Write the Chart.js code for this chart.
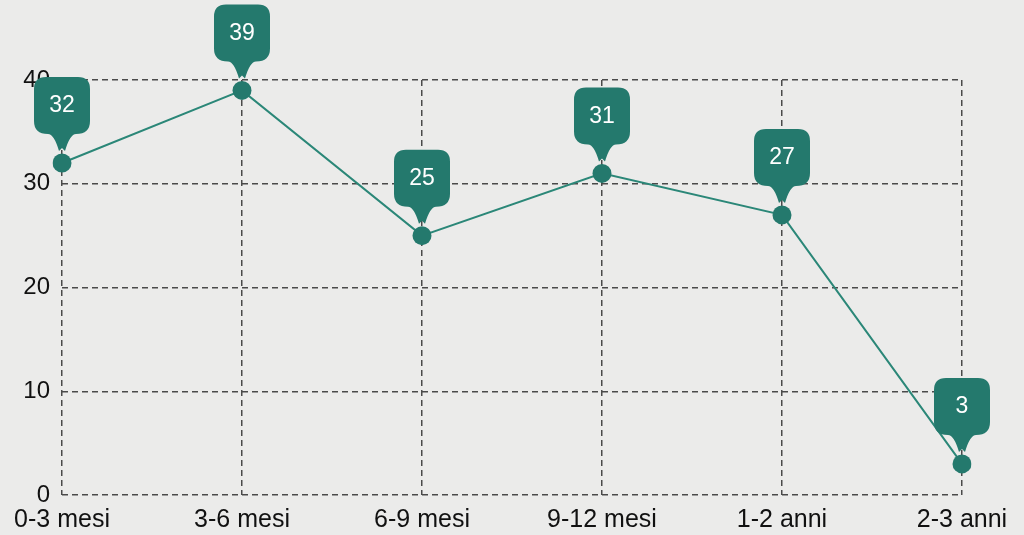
<!DOCTYPE html>
<html>
<head>
<meta charset="utf-8">
<script src="https://cdn.jsdelivr.net/npm/chart.js@4"></script>
<style>
  html, body { margin: 0; padding: 0; background: #ebebea; }
  #wrap { width: 1024px; height: 535px; }
</style>
</head>
<body>
<div id="wrap"><canvas id="myChart" width="1024" height="535"></canvas></div>
<script>
const categories = ['0-3 mesi', '3-6 mesi', '6-9 mesi', '9-12 mesi', '1-2 anni', '2-3 anni'];
const values = [32, 39, 25, 31, 27, 3];
const yTicks = [0, 10, 20, 30, 40];

const teal = '#24796d';
const fontFam = '"Liberation Sans", Arial, sans-serif';

// marker-shaped callouts over each point
const calloutPlugin = {
  id: 'callouts',
  afterDatasetsDraw(chart) {
    const ctx = chart.ctx;
    const meta = chart.getDatasetMeta(0);
    meta.data.forEach((pt, i) => {
      const x = pt.x, y = pt.y;
      const w = 56, r = 12;
      const left = x - w / 2, right = x + w / 2;
      const top = y - 86, bottom = y - 30, tip = y - 15;
      ctx.save();
      ctx.fillStyle = teal;
      ctx.beginPath();
      ctx.moveTo(left + r, top);
      ctx.lineTo(right - r, top);
      ctx.quadraticCurveTo(right, top, right, top + r);
      ctx.lineTo(right, bottom - r);
      ctx.quadraticCurveTo(right, bottom + 1, right - r - 2, bottom + 1);
      ctx.quadraticCurveTo(x + 8, bottom + 1, x + 3, tip + 3);
      ctx.lineTo(x, tip);
      ctx.lineTo(x - 3, tip + 3);
      ctx.quadraticCurveTo(x - 8, bottom + 1, left + r + 2, bottom + 1);
      ctx.quadraticCurveTo(left, bottom + 1, left, bottom - r);
      ctx.lineTo(left, top + r);
      ctx.quadraticCurveTo(left, top, left + r, top);
      ctx.closePath();
      ctx.fill();
      ctx.fillStyle = '#ffffff';
      ctx.font = '23px ' + fontFam;
      ctx.textAlign = 'center';
      ctx.textBaseline = 'middle';
      ctx.fillText(String(values[i]), x, (top + bottom) / 2 + 1);
      ctx.restore();
    });
  }
};

const ctx = document.getElementById('myChart').getContext('2d');
new Chart(ctx, {
  type: 'line',
  data: {
    labels: categories,
    datasets: [{
      data: values,
      borderColor: '#2b8778',
      backgroundColor: teal,
      borderWidth: 2,
      pointRadius: 9.5,
      pointHoverRadius: 9.5,
      pointBackgroundColor: teal,
      pointBorderWidth: 0,
      tension: 0
    }]
  },
  options: {
    responsive: false,
    animation: false,
    layout: { padding: { top: 80, right: 0, left: 0, bottom: 0 } },
    plugins: { legend: { display: false }, tooltip: { enabled: false } },
    scales: {
      x: {
        offset: false,
        afterFit: (axis) => { axis.height = 40; axis.paddingRight = 62; },
        grid: { color: '#4a4a4a', lineWidth: 1.5, drawTicks: false },
        border: { display: false, dash: [6, 4] },
        ticks: {
          color: '#111111',
          padding: 10,
          maxRotation: 0,
          autoSkip: false,
          font: { family: fontFam, size: 25 }
        }
      },
      y: {
        min: 0,
        max: 40,
        afterBuildTicks: (axis) => { axis.ticks = yTicks.map(v => ({ value: v })); },
        afterFit: (axis) => { axis.width = 62; },
        grid: { color: '#4a4a4a', lineWidth: 1.5, drawTicks: false },
        border: { display: false, dash: [6, 4] },
        ticks: {
          color: '#111111',
          padding: 12,
          font: { family: fontFam, size: 24 }
        }
      }
    }
  },
  plugins: [calloutPlugin]
});
</script>
</body>
</html>
